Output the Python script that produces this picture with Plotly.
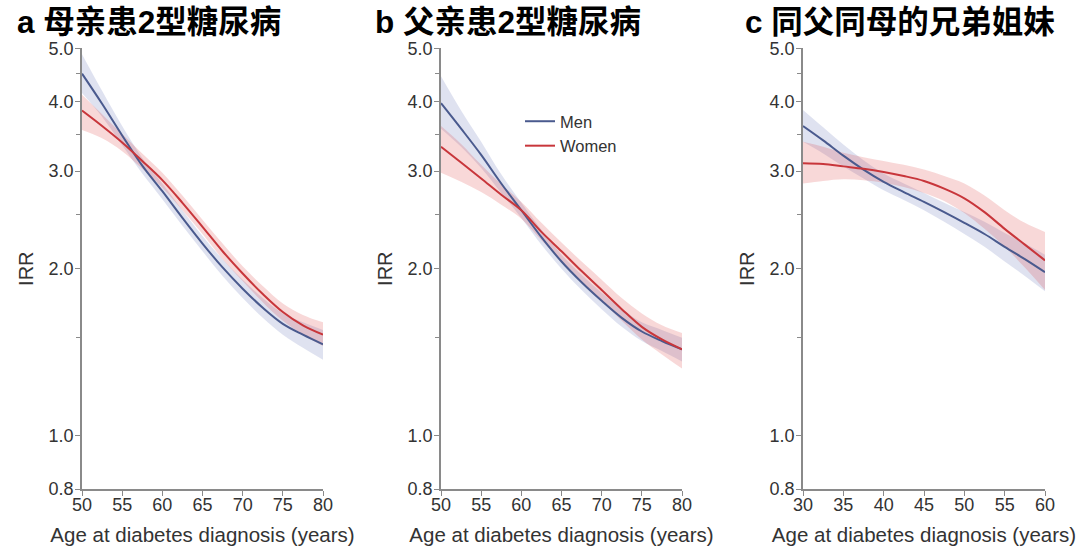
import plotly.graph_objects as go

# ---------------- data ----------------
age_ab = [50, 52.5, 55, 57.5, 60, 62.5, 65, 67.5, 70, 72.5, 75, 77.5, 80]
age_c = [30, 32.5, 35, 37.5, 40, 42.5, 45, 47.5, 50, 52.5, 55, 57.5, 60]

# Panel a: mother with type 2 diabetes
a_men = [4.50, 3.97, 3.48, 3.07, 2.76, 2.47, 2.22, 2.01, 1.84, 1.70, 1.59, 1.52, 1.46]
a_men_lo = [4.15, 3.76, 3.34, 2.97, 2.67, 2.39, 2.15, 1.94, 1.77, 1.63, 1.52, 1.44, 1.37]
a_men_hi = [4.88, 4.19, 3.62, 3.17, 2.85, 2.55, 2.29, 2.08, 1.91, 1.77, 1.66, 1.60, 1.55]
a_women = [3.86, 3.62, 3.38, 3.13, 2.89, 2.63, 2.38, 2.15, 1.96, 1.80, 1.67, 1.58, 1.52]
a_women_lo = [3.56, 3.44, 3.26, 3.03, 2.80, 2.55, 2.31, 2.08, 1.90, 1.74, 1.61, 1.52, 1.45]
a_women_hi = [4.12, 3.80, 3.50, 3.23, 2.98, 2.71, 2.45, 2.22, 2.02, 1.86, 1.73, 1.65, 1.60]

# Panel b: father with type 2 diabetes
b_men = [3.98, 3.58, 3.21, 2.85, 2.55, 2.28, 2.06, 1.89, 1.75, 1.63, 1.54, 1.48, 1.43]
b_men_lo = [3.58, 3.32, 3.04, 2.74, 2.47, 2.21, 2.00, 1.83, 1.69, 1.57, 1.48, 1.42, 1.36]
b_men_hi = [4.45, 3.86, 3.39, 2.96, 2.63, 2.35, 2.12, 1.95, 1.81, 1.69, 1.60, 1.55, 1.50]
b_women = [3.32, 3.11, 2.91, 2.72, 2.55, 2.33, 2.15, 1.98, 1.83, 1.69, 1.57, 1.49, 1.43]
b_women_lo = [2.98, 2.87, 2.75, 2.61, 2.46, 2.25, 2.07, 1.90, 1.75, 1.61, 1.49, 1.40, 1.32]
b_women_hi = [3.62, 3.36, 3.08, 2.84, 2.64, 2.42, 2.23, 2.06, 1.91, 1.77, 1.66, 1.58, 1.53]

# Panel c: full siblings
c_men = [3.62, 3.41, 3.20, 3.02, 2.87, 2.75, 2.64, 2.53, 2.42, 2.31, 2.19, 2.08, 1.97]
c_men_lo = [3.39, 3.23, 3.06, 2.91, 2.77, 2.66, 2.55, 2.43, 2.31, 2.19, 2.06, 1.94, 1.82]
c_men_hi = [3.87, 3.60, 3.35, 3.14, 2.97, 2.85, 2.74, 2.63, 2.53, 2.43, 2.32, 2.22, 2.12]
c_women = [3.10, 3.09, 3.06, 3.03, 2.99, 2.94, 2.88, 2.79, 2.68, 2.53, 2.36, 2.21, 2.07]
c_women_lo = [2.85, 2.88, 2.90, 2.89, 2.86, 2.81, 2.74, 2.65, 2.52, 2.36, 2.19, 2.01, 1.83]
c_women_hi = [3.39, 3.32, 3.24, 3.18, 3.13, 3.08, 3.02, 2.94, 2.85, 2.71, 2.55, 2.42, 2.33]

panel_titles = ["a 母亲患2型糖尿病", "b 父亲患2型糖尿病", "c 同父同母的兄弟姐妹"]
series_names = ["Men", "Women"]
x_title = "Age at diabetes diagnosis (years)"
y_title = "IRR"
y_tickvals = [0.8, 1.0, 2.0, 3.0, 4.0, 5.0]
y_ticktext = ["0.8", "1.0", "2.0", "3.0", "4.0", "5.0"]
y_minor = [1.5, 2.5, 3.5, 4.5]

# ---------------- style ----------------
MEN_COLOR = "#4a5a8e"
WOMEN_COLOR = "#c8363b"
MEN_FILL = "rgba(75,95,170,0.18)"
WOMEN_FILL = "rgba(220,60,60,0.20)"
AXIS_COLOR = "#8a8a8a"
TEXT_COLOR = "#333333"
FONT = "Liberation Sans, Arial, Noto Sans CJK SC, sans-serif"

W, H = 1080, 555
x_dom_px = [(82, 323), (441, 682), (803, 1045)]
y_dom = [1 - 489 / H, 1 - 48.3 / H]

fig = go.Figure()

panels = [
    (age_ab, a_men, a_men_lo, a_men_hi, a_women, a_women_lo, a_women_hi),
    (age_ab, b_men, b_men_lo, b_men_hi, b_women, b_women_lo, b_women_hi),
    (age_c, c_men, c_men_lo, c_men_hi, c_women, c_women_lo, c_women_hi),
]

for i, (ages, m, mlo, mhi, w, wlo, whi) in enumerate(panels):
    xa = "x" if i == 0 else f"x{i+1}"
    ya = "y" if i == 0 else f"y{i+1}"
    for lo, hi, fill in [(mlo, mhi, MEN_FILL), (wlo, whi, WOMEN_FILL)]:
        fig.add_trace(go.Scatter(x=ages, y=lo, mode="lines", line=dict(width=0, shape="spline"),
                                 showlegend=False, hoverinfo="skip", xaxis=xa, yaxis=ya))
        fig.add_trace(go.Scatter(x=ages, y=hi, mode="lines", line=dict(width=0, shape="spline"),
                                 fill="tonexty", fillcolor=fill, showlegend=False,
                                 hoverinfo="skip", xaxis=xa, yaxis=ya))
    fig.add_trace(go.Scatter(x=ages, y=m, mode="lines", name=series_names[0],
                             line=dict(color=MEN_COLOR, width=2, shape="spline"),
                             showlegend=(i == 1), xaxis=xa, yaxis=ya))
    fig.add_trace(go.Scatter(x=ages, y=w, mode="lines", name=series_names[1],
                             line=dict(color=WOMEN_COLOR, width=2, shape="spline"),
                             showlegend=(i == 1), xaxis=xa, yaxis=ya))

layout = dict(
    width=W, height=H,
    margin=dict(l=0, r=0, t=0, b=0, autoexpand=False),
    paper_bgcolor="white", plot_bgcolor="white",
    font=dict(family=FONT, color=TEXT_COLOR, size=18),
    legend=dict(x=520 / W, y=1 - 104 / H, xanchor="left", yanchor="top",
                bgcolor="rgba(0,0,0,0)", font=dict(size=16.5, color=TEXT_COLOR),
                traceorder="normal", tracegroupgap=0),
    annotations=[],
)

for i in range(3):
    ages = panels[i][0]
    xk = "xaxis" if i == 0 else f"xaxis{i+1}"
    yk = "yaxis" if i == 0 else f"yaxis{i+1}"
    xa_id = "x" if i == 0 else f"x{i+1}"
    ya_id = "y" if i == 0 else f"y{i+1}"
    x0, x1 = x_dom_px[i]
    layout[xk] = dict(
        domain=[x0 / W, x1 / W], anchor=ya_id, automargin=False,
        range=[ages[0], ages[-1]], dtick=5, tick0=ages[0],
        showline=True, linecolor=AXIS_COLOR, linewidth=1.5,
        ticks="outside", ticklen=5, tickcolor=AXIS_COLOR, tickwidth=1.2,
        ticklabelstandoff=-6,
        showgrid=False, zeroline=False,
        tickfont=dict(size=18, color=TEXT_COLOR),
        title=dict(text=x_title, font=dict(size=20.5, color=TEXT_COLOR), standoff=13),
    )
    layout[yk] = dict(
        domain=y_dom, anchor=xa_id, type="log", automargin=False,
        range=[-0.09691, 0.69897],
        tickvals=y_tickvals, ticktext=y_ticktext,
        minor=dict(tickvals=y_minor, ticks="outside", ticklen=4, tickcolor=AXIS_COLOR),
        showline=True, linecolor=AXIS_COLOR, linewidth=1.5,
        ticks="outside", ticklen=5, tickcolor=AXIS_COLOR, tickwidth=1.2,
        ticklabelstandoff=-2,
        showgrid=False, zeroline=False,
        tickfont=dict(size=18, color=TEXT_COLOR),
        title=dict(text=y_title, font=dict(size=20, color=TEXT_COLOR), standoff=10),
    )

title_x_px = [15, 373, 743]
for i, t in enumerate(panel_titles):
    layout["annotations"].append(dict(
        text=f"<b>{t}</b>", x=title_x_px[i] / W, y=1 - 21.5 / H,
        xref="paper", yref="paper", xanchor="left", yanchor="middle",
        showarrow=False, font=dict(size=31.5, color="#000000",
                                   family="Liberation Sans, Arial, Noto Sans CJK SC, sans-serif"),
    ))

fig.update_layout(**layout)
fig.write_html("out.html")
